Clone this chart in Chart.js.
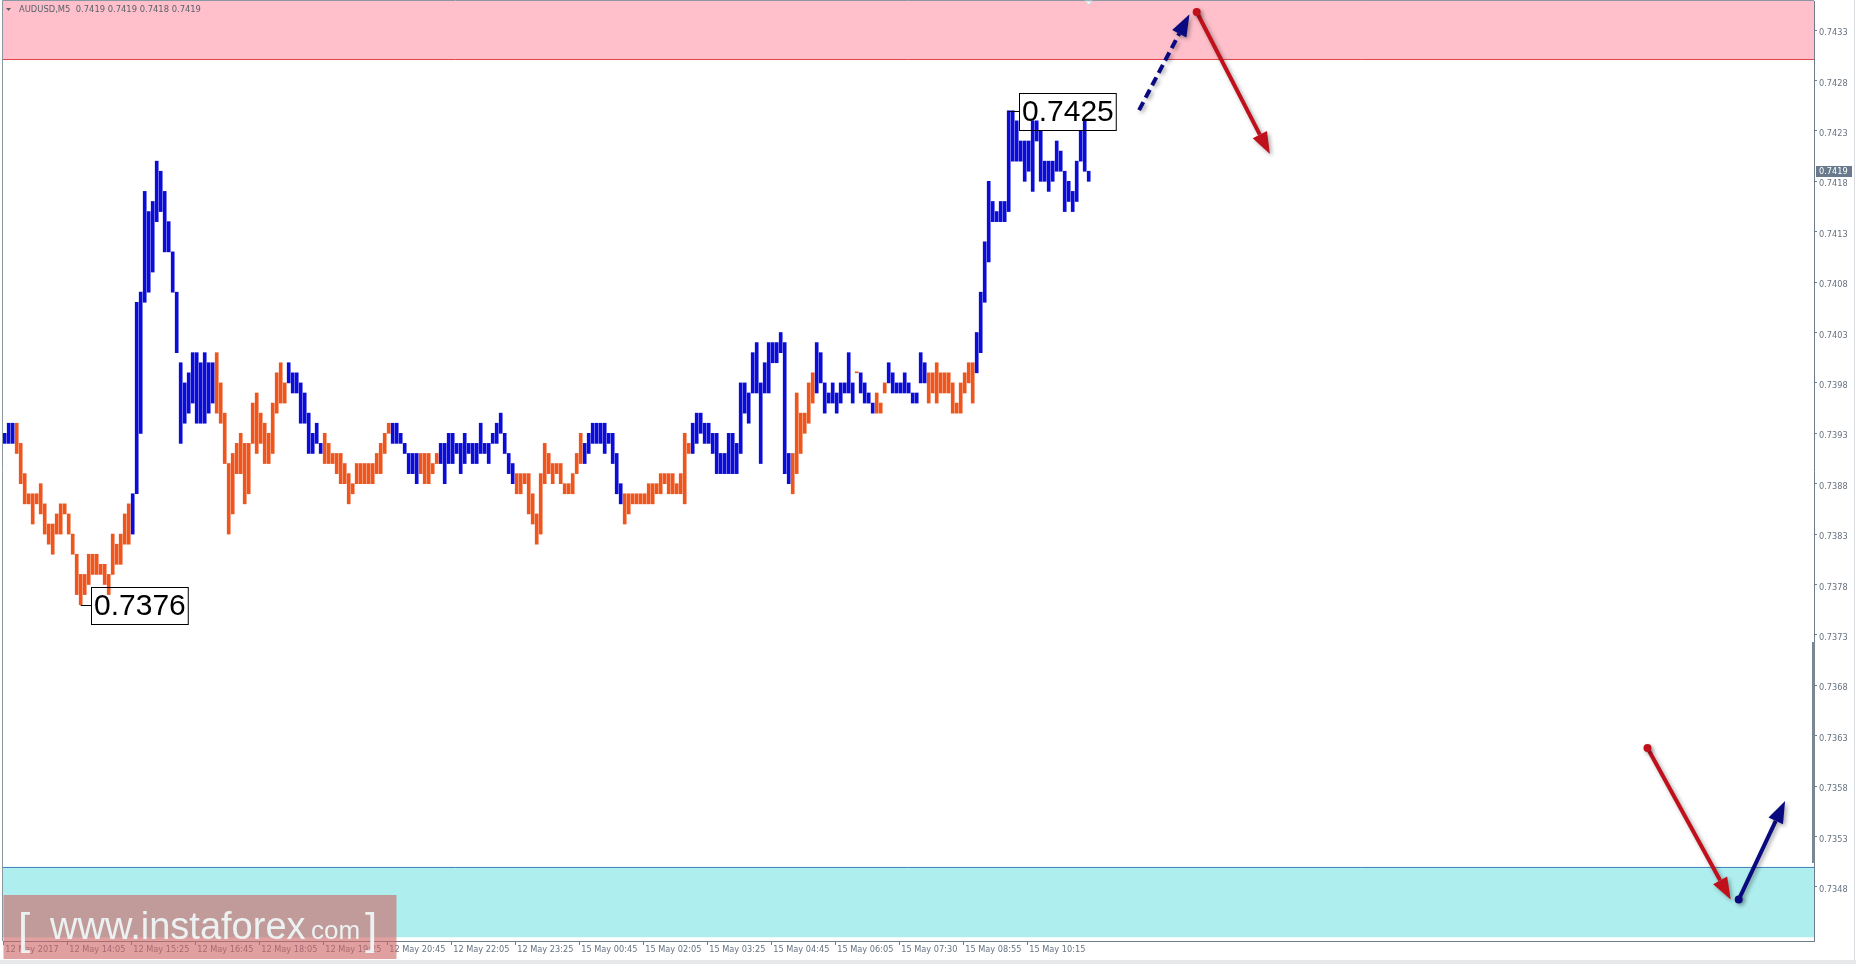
<!DOCTYPE html>
<html>
<head>
<meta charset="utf-8">
<script src="https://cdn.jsdelivr.net/npm/chart.js@4.4.1/dist/chart.umd.min.js"></script>
<style>
  html, body { margin: 0; padding: 0; background: #fff; }
  #chart { display: block; }
</style>
</head>
<body>
<canvas id="chart" width="1856" height="964"></canvas>
<script>
// AUDUSD M5, bar highs / lows
const highs = [
  0.7393,0.7394,0.7394,0.7394,0.7392,0.7389,0.7387,0.7387,0.7387,0.7388,0.7386,0.7384,0.7384,0.7385,0.7386,0.7386,
  0.7385,0.7383,0.7381,0.7379,0.7379,0.7381,0.7381,0.7381,0.7380,0.7380,0.7379,0.7383,0.7382,0.7383,0.7385,0.7386,
  0.7387,0.7406,0.7407,0.7417,0.7415,0.7416,0.7420,0.7419,0.7417,0.7414,0.7411,0.7407,0.7400,0.7398,0.7399,0.7401,
  0.7401,0.7400,0.7401,0.7400,0.7400,0.7401,0.7398,0.7395,0.7390,0.7391,0.7392,0.7393,0.7392,0.7392,0.7396,0.7397,
  0.7395,0.7394,0.7393,0.7396,0.7399,0.7400,0.7398,0.7400,0.7399,0.7399,0.7398,0.7397,0.7395,0.7393,0.7394,0.7392,
  0.7393,0.7392,0.7391,0.7391,0.7391,0.7390,0.7389,0.7388,0.7390,0.7390,0.7390,0.7390,0.7390,0.7391,0.7392,0.7393,
  0.7394,0.7394,0.7394,0.7393,0.7392,0.7391,0.7391,0.7391,0.7391,0.7391,0.7391,0.7390,0.7391,0.7392,0.7392,0.7393,
  0.7393,0.7392,0.7392,0.7393,0.7392,0.7392,0.7392,0.7394,0.7392,0.7392,0.7393,0.7394,0.7395,0.7393,0.7391,0.7390,
  0.7389,0.7389,0.7389,0.7389,0.7387,0.7385,0.7389,0.7392,0.7391,0.7390,0.7390,0.7390,0.7388,0.7388,0.7389,0.7391,
  0.7393,0.7392,0.7393,0.7394,0.7394,0.7394,0.7394,0.7393,0.7393,0.7391,0.7388,0.7387,0.7387,0.7387,0.7387,0.7387,
  0.7387,0.7388,0.7388,0.7388,0.7389,0.7389,0.7389,0.7389,0.7388,0.7389,0.7393,0.7392,0.7394,0.7395,0.7395,0.7394,
  0.7394,0.7393,0.7393,0.7391,0.7391,0.7393,0.7393,0.7392,0.7398,0.7398,0.7397,0.7401,0.7402,0.7398,0.7400,0.7402,
  0.7402,0.7402,0.7403,0.7402,0.7391,0.7391,0.7397,0.7395,0.7395,0.7398,0.7399,0.7402,0.7401,0.7398,0.7397,0.7398,
  0.7397,0.7398,0.7398,0.7401,0.7398,0.7399,0.7399,0.7398,0.7397,0.7396,0.7397,0.7396,0.7398,0.7400,0.7399,0.7398,
  0.7398,0.7399,0.7398,0.7397,0.7397,0.7401,0.7400,0.7399,0.7399,0.7400,0.7399,0.7399,0.7399,0.7398,0.7396,0.7398,
  0.7399,0.7400,0.7400,0.7403,0.7407,0.7412,0.7418,0.7416,0.7415,0.7416,0.7416,0.7425,0.7425,0.7424,0.7422,0.7422,
  0.7422,0.7424,0.7424,0.7423,0.7420,0.7420,0.7420,0.7422,0.7421,0.7419,0.7418,0.7417,0.7420,0.7423,0.7424,0.7419
];
const lows = [
  0.7392,0.7392,0.7392,0.7391,0.7388,0.7386,0.7386,0.7384,0.7386,0.7385,0.7383,0.7382,0.7381,0.7383,0.7383,0.7385,
  0.7383,0.7381,0.7377,0.7376,0.7377,0.7378,0.7379,0.7379,0.7379,0.7378,0.7377,0.7379,0.7380,0.7380,0.7382,0.7382,
  0.7383,0.7387,0.7393,0.7406,0.7407,0.7409,0.7414,0.7415,0.7411,0.7411,0.7407,0.7401,0.7392,0.7394,0.7395,0.7396,
  0.7394,0.7394,0.7394,0.7395,0.7396,0.7395,0.7394,0.7390,0.7383,0.7385,0.7389,0.7389,0.7386,0.7387,0.7392,0.7391,
  0.7392,0.7390,0.7390,0.7391,0.7395,0.7396,0.7396,0.7398,0.7397,0.7397,0.7394,0.7394,0.7391,0.7391,0.7392,0.7391,
  0.7390,0.7390,0.7390,0.7389,0.7388,0.7388,0.7386,0.7387,0.7388,0.7388,0.7388,0.7388,0.7388,0.7389,0.7389,0.7391,
  0.7393,0.7392,0.7392,0.7392,0.7391,0.7389,0.7389,0.7388,0.7389,0.7388,0.7388,0.7389,0.7390,0.7390,0.7388,0.7390,
  0.7390,0.7391,0.7389,0.7390,0.7391,0.7390,0.7390,0.7391,0.7391,0.7390,0.7392,0.7392,0.7393,0.7391,0.7389,0.7388,
  0.7387,0.7387,0.7388,0.7385,0.7384,0.7382,0.7383,0.7388,0.7389,0.7388,0.7389,0.7388,0.7387,0.7387,0.7387,0.7389,
  0.7390,0.7390,0.7391,0.7392,0.7392,0.7392,0.7391,0.7392,0.7390,0.7387,0.7386,0.7384,0.7385,0.7386,0.7386,0.7386,
  0.7386,0.7386,0.7386,0.7387,0.7387,0.7388,0.7387,0.7387,0.7387,0.7387,0.7386,0.7391,0.7391,0.7392,0.7393,0.7392,
  0.7392,0.7391,0.7389,0.7389,0.7389,0.7389,0.7389,0.7389,0.7391,0.7395,0.7394,0.7397,0.7397,0.7390,0.7397,0.7397,
  0.7400,0.7400,0.7401,0.7389,0.7388,0.7387,0.7389,0.7391,0.7393,0.7394,0.7396,0.7397,0.7398,0.7395,0.7396,0.7396,
  0.7395,0.7396,0.7397,0.7397,0.7396,0.7399,0.7397,0.7396,0.7396,0.7395,0.7395,0.7395,0.7397,0.7398,0.7397,0.7397,
  0.7397,0.7397,0.7397,0.7396,0.7396,0.7398,0.7398,0.7396,0.7397,0.7396,0.7397,0.7397,0.7397,0.7395,0.7395,0.7395,
  0.7397,0.7398,0.7396,0.7399,0.7401,0.7406,0.7410,0.7414,0.7414,0.7414,0.7414,0.7415,0.7420,0.7420,0.7420,0.7418,
  0.7419,0.7417,0.7422,0.7418,0.7418,0.7417,0.7418,0.7419,0.7419,0.7415,0.7416,0.7415,0.7416,0.7420,0.7419,0.7418
];
// colour of the bars, as runs: B = blue (up wave), O = orange (down wave)
const trendRuns = [
  ['B',3],['O',29],['B',21],['O',18],['B',9],['O',17],['B',7],['O',5],['B',19],['O',17],['B',10],
  ['O',17],['B',25],['O',6],['B',10],['O',1],['B',4],['O',3],['B',10],['O',12],['B',29]
];

const timeLabels = ['12 May 2017','12 May 14:05','12 May 15:25','12 May 16:45','12 May 18:05','12 May 19:25',
  '12 May 20:45','12 May 22:05','12 May 23:25','15 May 00:45','15 May 02:05','15 May 03:25','15 May 04:45',
  '15 May 06:05','15 May 07:30','15 May 08:55','15 May 10:15'];
const timeLabelBars = [0,16,32,48,64,80,96,112,128,144,160,176,192,208,224,240,256];
const priceTicks = [0.7433,0.7428,0.7423,0.7418,0.7413,0.7408,0.7403,0.7398,0.7393,0.7388,
  0.7383,0.7378,0.7373,0.7368,0.7363,0.7358,0.7353,0.7348];

const sellZone = [0.74301, 0.7436];
const buyZone = [0.7343, 0.7350];
const lastPrice = 0.7419;
const swingLabels = [
  { bar: 19, price: 0.7376, text: '0.7376' },
  { bar: 251, price: 0.7425, text: '0.7425' }
];
// forecast arrows in (bar, price)
const arrows = [
  { from: [283.6, 0.742507], to: [296.2, 0.743458], color: '#0a0a80', dashed: true, dot: false },
  { from: [298.0, 0.743480], to: [316.3, 0.742070], color: '#c0101c', dashed: false, dot: true },
  { from: [410.7, 0.736178], to: [431.5, 0.734674], color: '#c0101c', dashed: false, dot: true },
  { from: [433.5, 0.734674], to: [445.1, 0.735652], color: '#0a0a80', dashed: false, dot: true }
];

const UP = '#0c0cd8', DOWN = '#ee561e';
const AXIS = '#6f7c8a', TEXT = '#66727f';

const barColors = [];
trendRuns.forEach(([c, n]) => { for (let k = 0; k < n; k++) barColors.push(c === 'B' ? UP : DOWN); });

Chart.defaults.font.family = '"DejaVu Sans", sans-serif';

function drawArrow(ctx, x1, y1, x2, y2, color, dashed, dot) {
    const ang = Math.atan2(y2 - y1, x2 - x1);
    const head = 22, half = 8;
    const bx = x2 - head * Math.cos(ang), by = y2 - head * Math.sin(ang);
    ctx.save();
    ctx.shadowColor = 'rgba(0,0,0,0.35)';
    ctx.shadowBlur = 4;
    ctx.shadowOffsetX = 2;
    ctx.shadowOffsetY = 2;
    ctx.strokeStyle = color;
    ctx.fillStyle = color;
    ctx.lineWidth = 4;
    if (dashed) ctx.setLineDash([9, 5]);
    ctx.beginPath();
    ctx.moveTo(x1, y1);
    ctx.lineTo(bx, by);
    ctx.stroke();
    ctx.setLineDash([]);
    ctx.beginPath();
    ctx.moveTo(x2, y2);
    ctx.lineTo(bx + half * Math.sin(ang), by - half * Math.cos(ang));
    ctx.lineTo(bx - half * Math.sin(ang), by + half * Math.cos(ang));
    ctx.closePath();
    ctx.fill();
    if (dot) {
        ctx.beginPath();
        ctx.arc(x1, y1, 4, 0, Math.PI * 2);
        ctx.fill();
    }
    ctx.restore();
}

const overlay = {
    id: 'overlay',
    beforeDatasetsDraw(chart) {
        const { ctx, chartArea: a, scales: { y } } = chart;
        ctx.save();
        // sell zone
        let top = Math.max(y.getPixelForValue(sellZone[1]), a.top);
        let bot = y.getPixelForValue(sellZone[0]);
        ctx.fillStyle = '#ffc0cb';
        ctx.fillRect(a.left, top, a.right - a.left, bot - top);
        ctx.strokeStyle = '#e0454a';
        ctx.lineWidth = 1;
        ctx.beginPath();
        ctx.moveTo(a.left, Math.round(bot) + 0.5);
        ctx.lineTo(a.right, Math.round(bot) + 0.5);
        ctx.stroke();
        // buy zone
        top = y.getPixelForValue(buyZone[1]);
        bot = Math.min(y.getPixelForValue(buyZone[0]), a.bottom);
        ctx.fillStyle = '#afeeee';
        ctx.fillRect(a.left, top, a.right - a.left, bot - top);
        ctx.strokeStyle = '#4d83c0';
        ctx.beginPath();
        ctx.moveTo(a.left, Math.round(top) + 0.5);
        ctx.lineTo(a.right, Math.round(top) + 0.5);
        ctx.stroke();
        ctx.restore();
    },
    afterDatasetsDraw(chart) {
        const { ctx, scales: { x, y } } = chart;
        ctx.save();
        // swing high / low labels
        ctx.font = '30px "Liberation Sans", Arial, sans-serif';
        ctx.textBaseline = 'middle';
        swingLabels.forEach(s => {
            const bx = x.getPixelForValue(s.bar), py = Math.round(y.getPixelForValue(s.price)) + 0.5;
            const w = ctx.measureText(s.text).width + 5, h = 37;
            const left = Math.round(bx + 10) + 0.5;
            ctx.strokeStyle = '#000';
            ctx.lineWidth = 1;
            ctx.beginPath();
            ctx.moveTo(bx, py);
            ctx.lineTo(left, py);
            ctx.stroke();
            ctx.strokeRect(left, Math.round(py - h / 2) + 0.5, w, h);
            ctx.fillStyle = '#000';
            ctx.fillText(s.text, left + 2.5, py + 1);
        });
        ctx.restore();
        arrows.forEach(a => {
            drawArrow(ctx, x.getPixelForValue(a.from[0]), y.getPixelForValue(a.from[1]),
                x.getPixelForValue(a.to[0]), y.getPixelForValue(a.to[1]), a.color, a.dashed, a.dot);
        });
    },
    afterDraw(chart) {
        const { ctx, chartArea: a, scales: { x, y } } = chart;
        ctx.save();
        // frame on left / top
        ctx.strokeStyle = '#8d97a1';
        ctx.lineWidth = 1;
        ctx.beginPath();
        ctx.moveTo(a.left - 0.5, a.bottom);
        ctx.lineTo(a.left - 0.5, a.top - 0.5);
        ctx.lineTo(a.right, a.top - 0.5);
        ctx.stroke();
        // window edges
        ctx.strokeStyle = '#d8dce0';
        ctx.beginPath();
        ctx.moveTo(1854.5, 0);
        ctx.lineTo(1854.5, 964);
        ctx.stroke();
        ctx.fillStyle = '#e6e8ea';
        ctx.fillRect(0, 960, 1856, 4);
        // scroll marker on the price axis
        ctx.fillStyle = '#7b8894';
        ctx.fillRect(a.right - 2, 642, 3, 221);
        // shift marker
        ctx.fillStyle = '#f4f6f8';
        ctx.strokeStyle = '#c8ced4';
        ctx.beginPath();
        ctx.moveTo(x.getPixelForValue(271) - 4, a.top);
        ctx.lineTo(x.getPixelForValue(271) + 4, a.top);
        ctx.lineTo(x.getPixelForValue(271), a.top + 4);
        ctx.closePath();
        ctx.fill();
        ctx.stroke();
        // header
        ctx.fillStyle = '#56616c';
        ctx.beginPath();
        ctx.moveTo(6, 8);
        ctx.lineTo(11, 8);
        ctx.lineTo(8.5, 11);
        ctx.closePath();
        ctx.fill();
        ctx.font = '8.4px "DejaVu Sans", sans-serif';
        ctx.textBaseline = 'middle';
        ctx.fillText('AUDUSD,M5  0.7419 0.7419 0.7418 0.7419', 19, 10);
        // last price tag
        const py = Math.round(y.getPixelForValue(lastPrice));
        ctx.font = '8.2px "DejaVu Sans", sans-serif';
        ctx.fillStyle = '#687a8c';
        ctx.fillRect(a.right + 2, py - 5, 36, 11);
        ctx.fillStyle = '#fff';
        ctx.fillText(lastPrice.toFixed(4), a.right + 5, py + 0.5);
        // watermark
        ctx.fillStyle = 'rgba(205,102,102,0.62)';
        ctx.fillRect(3.5, 895, 393, 64);
        ctx.fillStyle = 'rgba(240,250,250,0.92)';
        ctx.textBaseline = 'alphabetic';
        ctx.font = '300 44px "Liberation Sans", Arial, sans-serif';
        ctx.fillText('[', 18, 944);
        ctx.fillText(']', 365, 944);
        ctx.font = '38px "Liberation Sans", Arial, sans-serif';
        ctx.fillText('www.instaforex', 50, 939);
        ctx.font = '26px "Liberation Sans", Arial, sans-serif';
        ctx.fillText('com', 311, 939);
        ctx.restore();
    }
};

new Chart(document.getElementById('chart'), {
    type: 'bar',
    data: {
        datasets: [{
            data: highs.map((h, i) => ({ x: i, y: [lows[i], h] })),
            backgroundColor: barColors,
            barThickness: 3,
            minBarLength: 1,
            grouped: false
        }]
    },
    options: {
        responsive: false,
        animation: false,
        events: [],
        layout: { padding: { left: 3, top: 1, right: 0, bottom: 0 } },
        plugins: { legend: { display: false }, tooltip: { enabled: false } },
        scales: {
            x: {
                type: 'linear',
                position: 'bottom',
                min: -0.425,
                max: 452.325,
                offset: false,
                bounds: 'data',
                afterBuildTicks: s => { s.ticks = timeLabelBars.map(b => ({ value: b - 0.375 })); },
                afterFit: s => { s.height = 23; s.paddingLeft = 0; s.paddingRight = 0; },
                ticks: {
                    callback: (v, i) => timeLabels[i],
                    align: 'start',
                    autoSkip: false,
                    maxRotation: 0,
                    minRotation: 0,
                    padding: 0,
                    labelOffset: 2,
                    color: TEXT,
                    font: { size: 8.2 }
                },
                grid: { drawOnChartArea: false, offset: false, tickLength: 4, color: AXIS },
                border: { color: AXIS, width: 1 }
            },
            y: {
                type: 'linear',
                position: 'right',
                min: 0.734263,
                max: 0.743589,
                bounds: 'data',
                afterBuildTicks: s => { s.ticks = priceTicks.map(v => ({ value: v })); },
                afterFit: s => { s.width = 42; s.paddingTop = 0; s.paddingBottom = 0; },
                ticks: {
                    callback: v => v.toFixed(4),
                    padding: 2,
                    labelOffset: 3,
                    color: TEXT,
                    font: { size: 8.2 }
                },
                grid: { drawOnChartArea: false, tickLength: 3, color: AXIS },
                border: { color: AXIS, width: 1 }
            }
        }
    },
    plugins: [overlay]
});
</script>
</body>
</html>
